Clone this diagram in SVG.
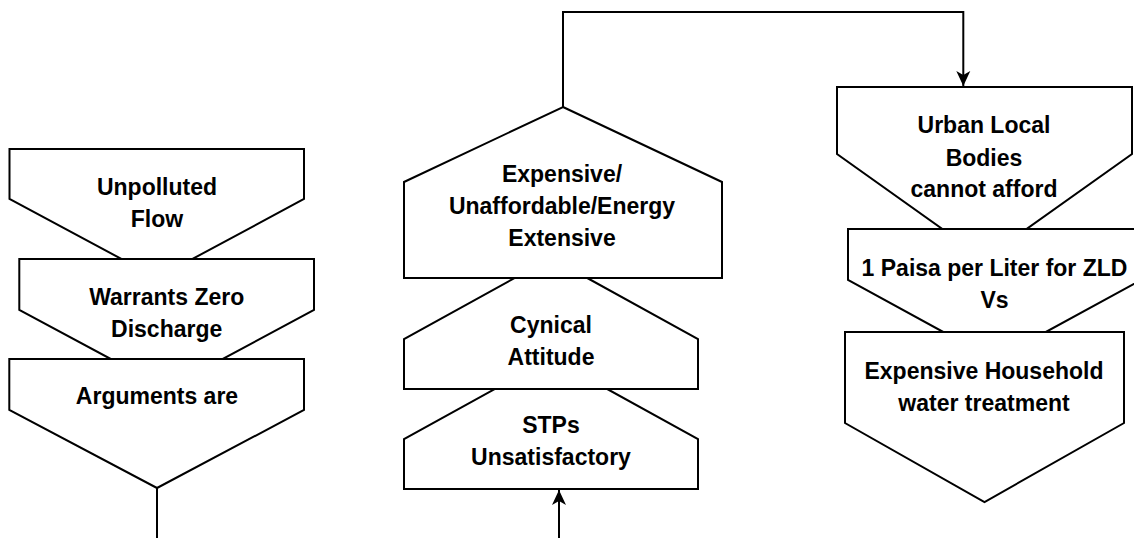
<svg xmlns="http://www.w3.org/2000/svg" width="1134" height="538" viewBox="0 0 1134 538">
<defs>
<style>
.s{fill:#fff;stroke:#000;stroke-width:2;stroke-linejoin:miter}
.t{font-family:"Liberation Sans",Arial,sans-serif;font-weight:bold;font-size:23px;fill:#000;text-anchor:middle}
.c{fill:none;stroke:#000;stroke-width:2}
</style>
<marker id="ah" viewBox="0 0 16 16" refX="15" refY="8" markerWidth="16" markerHeight="16" markerUnits="userSpaceOnUse" orient="auto">
<path d="M15,8 L0,1 L4,8 L0,15 Z" fill="#000"/>
</marker>
</defs>
<rect width="1134" height="538" fill="#fff"/>
<g id="n-unpolluted">
<polygon class="s" points="9.5,149 304,149 304,199 157,278 9.5,199"/>
<text class="t" x="157" y="195">Unpolluted</text>
<text class="t" x="157" y="227">Flow</text>
</g>
<g id="n-warrants">
<polygon class="s" points="19.3,259 314,259 314,310 166.7,389 19.3,310"/>
<text class="t" x="166.7" y="305">Warrants Zero</text>
<text class="t" x="166.7" y="337">Discharge</text>
</g>
<g id="n-arguments">
<polygon class="s" points="9.3,359 304,359 304,410 157,488 9.3,410"/>
<text class="t" x="157" y="404">Arguments are</text>
</g>
<g id="n-stps">
<polygon class="s" points="551,358 698,439 698,489 404,489 404,439"/>
<text class="t" x="551" y="433">STPs</text>
<text class="t" x="551" y="465">Unsatisfactory</text>
</g>
<g id="n-cynical">
<polygon class="s" points="551,258 698,339 698,389 404,389 404,339"/>
<text class="t" x="551" y="333">Cynical</text>
<text class="t" x="551" y="365">Attitude</text>
</g>
<g id="n-expensive">
<polygon class="s" points="563,107 722,182 722,278 404,278 404,182"/>
<text class="t" x="562" y="182">Expensive/</text>
<text class="t" x="562" y="213.5">Unaffordable/Energy</text>
<text class="t" x="562" y="245.5">Extensive</text>
</g>
<g id="n-urban">
<polygon class="s" points="837,87 1132,87 1132,154 984.5,259 837,154"/>
<text class="t" x="984" y="133">Urban Local</text>
<text class="t" x="984" y="166">Bodies</text>
<text class="t" x="984" y="197">cannot afford</text>
</g>
<g id="n-paisa">
<polygon class="s" points="848,229 1141,229 1141,280 994.5,360 848,280"/>
<text class="t" x="994.5" y="276">1 Paisa per Liter for ZLD</text>
<text class="t" x="994.5" y="307.5">Vs</text>
</g>
<g id="n-household">
<polygon class="s" points="845,332 1124,332 1124,423 984.5,502 845,423"/>
<text class="t" x="984" y="379">Expensive Household</text>
<text class="t" x="984" y="410.5">water treatment</text>
</g>
<g id="connectors">
<path class="c" d="M563,107 V12 H963.3 V86" marker-end="url(#ah)"/>
<path class="c" d="M559,538 V490" marker-end="url(#ah)"/>
<path class="c" d="M157,488 V538"/>
</g>
</svg>
